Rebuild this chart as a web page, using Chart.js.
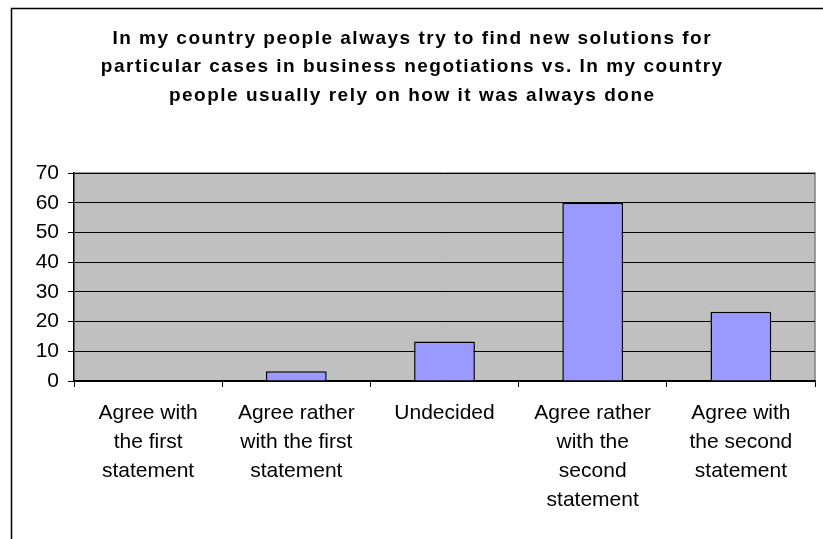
<!DOCTYPE html>
<html>
<head>
<meta charset="utf-8">
<script src="https://cdn.jsdelivr.net/npm/chart.js@4.4.1/dist/chart.umd.min.js"></script>
<style>
  html, body { margin: 0; padding: 0; background: #ffffff; }
  #wrap { width: 823px; height: 539px; position: relative; }
</style>
</head>
<body>
<div id="wrap"><canvas id="c" width="823" height="539"></canvas></div>
<script>
const titleLines = [
  "In my country people always try to find new solutions for",
  "particular cases in business negotiations vs. In my country",
  "people usually rely on how it was always done"
];
const categories = [
  ["Agree with", "the first", "statement"],
  ["Agree rather", "with the first", "statement"],
  ["Undecided"],
  ["Agree rather", "with the", "second", "statement"],
  ["Agree with", "the second", "statement"]
];
const values = [0, 3.3, 13.3, 60, 23.3];
const yMin = 0, yMax = 70, yStep = 10;

const FONT = "'Liberation Sans', Arial, sans-serif";

const frame = {
  id: 'frame',
  beforeDraw(chart) {
    const ctx = chart.ctx;
    ctx.save();
    ctx.fillStyle = '#ffffff';
    ctx.fillRect(0, 0, chart.width, chart.height);
    ctx.strokeStyle = '#000000';
    ctx.lineWidth = 1.5;
    ctx.beginPath();
    ctx.moveTo(11.5, chart.height + 2);
    ctx.lineTo(11.5, 8.5);
    ctx.lineTo(chart.width + 2, 8.5);
    ctx.stroke();
    const a = chart.chartArea;
    ctx.fillStyle = '#C0C0C0';
    ctx.fillRect(a.left, a.top, a.right - a.left, a.bottom - a.top);
    ctx.strokeStyle = '#808080';
    ctx.lineWidth = 1.5;
    ctx.beginPath();
    ctx.moveTo(a.left, a.top);
    ctx.lineTo(a.right, a.top);
    ctx.lineTo(a.right, a.bottom);
    ctx.stroke();
    ctx.restore();
  },
  afterDraw(chart) {
    const ctx = chart.ctx;
    ctx.save();
    ctx.fillStyle = '#000000';
    ctx.font = "bold 19px " + FONT;
    if ('letterSpacing' in ctx) ctx.letterSpacing = '1.5px';
    ctx.textAlign = 'center';
    ctx.textBaseline = 'middle';
    const cx = chart.width / 2 + 0.75;
    titleLines.forEach((line, i) => {
      ctx.fillText(line, cx, 38.5 + i * 28.5);
    });
    ctx.restore();
  }
};

new Chart(document.getElementById('c'), {
  type: 'bar',
  data: {
    labels: categories,
    datasets: [{
      data: values,
      backgroundColor: '#9999FF',
      borderColor: '#000000',
      borderWidth: 1.5,
      barPercentage: 0.82,
      categoryPercentage: 0.5
    }]
  },
  options: {
    responsive: false,
    animation: false,
    layout: { padding: { left: 0, right: 8, top: 173, bottom: 0 } },
    plugins: {
      legend: { display: false },
      tooltip: { enabled: false },
      title: { display: false }
    },
    scales: {
      x: {
        grid: { display: true, drawOnChartArea: false, drawTicks: true, tickLength: 6, offset: true, color: '#000000', lineWidth: 1 },
        border: { display: true, color: '#000000', width: 1.5 },
        ticks: { color: '#000000', font: { family: FONT, size: 21, lineHeight: 1.38 }, padding: 12, maxRotation: 0, autoSkip: false },
        afterFit(scale) { scale.height = 158; }
      },
      y: {
        min: yMin, max: yMax,
        grid: { color: '#000000', lineWidth: 1, drawTicks: true, tickLength: 6 },
        border: { display: true, color: '#000000', width: 1.5 },
        ticks: { stepSize: yStep, color: '#000000', font: { family: FONT, size: 21 }, padding: 9 },
        afterFit(scale) { scale.width = 74; }
      }
    }
  },
  plugins: [frame]
});
</script>
</body>
</html>
